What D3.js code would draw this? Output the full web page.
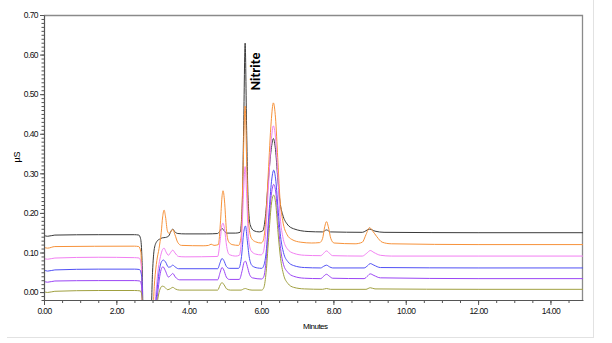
<!DOCTYPE html>
<html>
<head>
<meta charset="utf-8">
<script src="https://cdn.jsdelivr.net/npm/d3@7"></script>
<style>
  html, body { margin: 0; padding: 0; background: #fff; }
  svg { display: block; font-family: "Liberation Sans", Arial, sans-serif; }
  .axis text { font-size: 8.5px; letter-spacing: -0.6px; fill: #111; }
  .axis path, .axis line { stroke: #555; }
</style>
</head>
<body>
<div id="chart"></div>
<script>
// retention time (min), conductivity (µS)
const traceBlack = [[0,0.143],[0.1,0.141],[0.3,0.144],[1.5,0.145],[2.5,0.145],[2.62,0.144],[2.67,0.135],[2.71,0.08],[2.74,-0.05],[2.96,-0.05],[3.0,0.05],[3.05,0.11],[3.12,0.128],[3.2,0.134],[3.27,0.137],[3.36,0.138],[3.45,0.142],[3.51,0.154],[3.56,0.159],[3.61,0.153],[3.7,0.148],[3.9,0.147],[4.5,0.147],[4.8,0.148],[4.87,0.155],[4.92,0.161],[4.97,0.156],[5.05,0.149],[5.3,0.149],[5.42,0.151],[5.48,0.22],[5.52,0.42],[5.56,0.629],[5.6,0.42],[5.64,0.24],[5.7,0.17],[5.8,0.155],[5.95,0.152],[6.05,0.155],[6.12,0.19],[6.2,0.28],[6.28,0.36],[6.34,0.388],[6.4,0.36],[6.46,0.29],[6.52,0.23],[6.6,0.195],[6.72,0.172],[6.9,0.16],[7.3,0.153],[7.7,0.152],[7.81,0.157],[7.92,0.152],[8.8,0.151],[9.0,0.159],[9.15,0.154],[9.4,0.151],[12,0.15],[14.9,0.15]];
const traceOrange = [[0,0.113],[0.1,0.111],[0.3,0.115],[2.5,0.116],[2.62,0.115],[2.68,0.1],[2.72,-0.05],[3.0,-0.05],[3.06,0.03],[3.12,0.08],[3.18,0.11],[3.24,0.15],[3.28,0.19],[3.32,0.207],[3.36,0.19],[3.41,0.155],[3.46,0.148],[3.51,0.153],[3.56,0.158],[3.62,0.145],[3.7,0.125],[3.8,0.118],[4.4,0.117],[4.55,0.118],[4.62,0.121],[4.7,0.118],[4.82,0.12],[4.88,0.18],[4.92,0.24],[4.95,0.256],[4.99,0.23],[5.04,0.16],[5.1,0.128],[5.2,0.12],[5.38,0.118],[5.45,0.14],[5.5,0.3],[5.56,0.47],[5.61,0.3],[5.66,0.17],[5.74,0.135],[5.85,0.127],[6.0,0.124],[6.06,0.13],[6.12,0.17],[6.2,0.3],[6.28,0.43],[6.34,0.478],[6.4,0.44],[6.46,0.34],[6.52,0.24],[6.6,0.18],[6.72,0.145],[6.85,0.133],[7.1,0.126],[7.4,0.124],[7.62,0.125],[7.7,0.135],[7.76,0.165],[7.81,0.178],[7.86,0.165],[7.93,0.135],[8.02,0.124],[8.6,0.122],[8.8,0.126],[8.9,0.145],[9.0,0.163],[9.08,0.155],[9.2,0.14],[9.35,0.126],[9.6,0.122],[12,0.12],[14.9,0.12]];
const tracePink = [[0,0.085],[0.1,0.083],[0.3,0.086],[1.5,0.088],[2.5,0.087],[2.63,0.086],[2.69,0.07],[2.73,-0.05],[3.04,-0.05],[3.1,0.005],[3.16,0.06],[3.22,0.09],[3.28,0.108],[3.32,0.111],[3.37,0.102],[3.44,0.093],[3.5,0.1],[3.56,0.106],[3.62,0.099],[3.72,0.09],[3.9,0.089],[4.8,0.09],[4.87,0.13],[4.92,0.17],[4.95,0.174],[4.99,0.16],[5.05,0.115],[5.12,0.095],[5.3,0.091],[5.4,0.093],[5.47,0.15],[5.52,0.26],[5.56,0.317],[5.6,0.25],[5.65,0.14],[5.72,0.105],[5.85,0.096],[6.0,0.094],[6.06,0.1],[6.12,0.14],[6.2,0.26],[6.28,0.38],[6.34,0.42],[6.4,0.39],[6.46,0.3],[6.52,0.2],[6.6,0.14],[6.72,0.11],[6.9,0.098],[7.2,0.093],[7.65,0.092],[7.73,0.098],[7.81,0.104],[7.89,0.098],[7.98,0.092],[8.8,0.091],[8.92,0.098],[9.02,0.105],[9.12,0.1],[9.3,0.093],[9.6,0.091],[12,0.091],[14.9,0.091]];
const traceBlue = [[0,0.056],[0.1,0.053],[0.3,0.056],[1.5,0.058],[2.5,0.058],[2.64,0.057],[2.7,0.04],[2.74,-0.05],[3.06,-0.05],[3.12,0.0],[3.18,0.05],[3.24,0.075],[3.3,0.081],[3.36,0.076],[3.44,0.063],[3.5,0.064],[3.56,0.068],[3.62,0.064],[3.72,0.059],[4.8,0.059],[4.87,0.075],[4.92,0.085],[4.97,0.08],[5.04,0.065],[5.12,0.06],[5.38,0.06],[5.46,0.09],[5.52,0.15],[5.57,0.167],[5.62,0.13],[5.68,0.085],[5.76,0.066],[5.9,0.061],[6.02,0.06],[6.08,0.068],[6.14,0.1],[6.22,0.2],[6.29,0.28],[6.35,0.308],[6.41,0.28],[6.47,0.21],[6.54,0.14],[6.62,0.1],[6.74,0.077],[6.9,0.067],[7.2,0.062],[7.65,0.061],[7.73,0.065],[7.81,0.068],[7.89,0.064],[7.98,0.061],[8.85,0.061],[8.95,0.067],[9.02,0.072],[9.12,0.068],[9.3,0.062],[12,0.061],[14.9,0.061]];
const tracePurple = [[0,0.027],[0.1,0.025],[0.3,0.028],[1.5,0.029],[2.5,0.029],[2.65,0.028],[2.7,0.015],[2.74,-0.05],[3.08,-0.05],[3.14,-0.005],[3.2,0.04],[3.25,0.06],[3.29,0.064],[3.35,0.055],[3.44,0.038],[3.5,0.042],[3.56,0.047],[3.63,0.038],[3.75,0.031],[4.8,0.031],[4.87,0.05],[4.92,0.062],[4.97,0.056],[5.04,0.038],[5.12,0.032],[5.4,0.032],[5.48,0.055],[5.53,0.075],[5.57,0.078],[5.62,0.065],[5.68,0.045],[5.76,0.036],[6.02,0.033],[6.08,0.04],[6.14,0.08],[6.22,0.18],[6.29,0.25],[6.35,0.272],[6.41,0.25],[6.47,0.18],[6.54,0.11],[6.62,0.07],[6.74,0.05],[6.9,0.04],[7.2,0.035],[7.65,0.034],[7.73,0.04],[7.81,0.045],[7.89,0.04],[7.98,0.035],[8.85,0.034],[8.95,0.041],[9.02,0.046],[9.12,0.042],[9.3,0.036],[12,0.034],[14.9,0.034]];
const traceOlive = [[0,0.001],[0.1,-0.001],[0.3,0.002],[1.5,0.004],[2.5,0.004],[2.66,0.003],[2.71,-0.01],[2.74,-0.05],[3.1,-0.05],[3.15,-0.015],[3.21,0.008],[3.27,0.015],[3.33,0.013],[3.42,0.006],[3.5,0.009],[3.56,0.012],[3.63,0.008],[3.75,0.005],[4.8,0.005],[4.87,0.018],[4.92,0.024],[4.98,0.018],[5.05,0.008],[5.15,0.005],[5.45,0.005],[5.52,0.008],[5.57,0.009],[5.63,0.007],[5.75,0.005],[6.02,0.005],[6.08,0.012],[6.14,0.05],[6.22,0.15],[6.29,0.225],[6.35,0.245],[6.41,0.22],[6.47,0.15],[6.54,0.085],[6.62,0.045],[6.74,0.022],[6.9,0.012],[7.2,0.008],[7.7,0.007],[7.81,0.009],[7.92,0.007],[8.9,0.007],[9.02,0.011],[9.15,0.008],[12,0.007],[14.9,0.007]];

const traces = [traceBlack, traceOrange, tracePink, traceBlue, tracePurple, traceOlive];
const traceColors = ['#3a3a3a', '#f7923a', '#f27ff2', '#5050f5', '#9b45f5', '#a0a040'];
const xTickLabels = ['0.00', '2.00', '4.00', '6.00', '8.00', '10.00', '12.00', '14.00'];
const yTickLabels = ['0.00', '0.10', '0.20', '0.30', '0.40', '0.50', '0.60', '0.70'];

const width = 612;
const height = 343;
const margin = { top: 15, right: 29, bottom: 43, left: 44 };
const plotW = width - margin.left - margin.right;
const plotH = height - margin.top - margin.bottom;

const svg = d3.select('#chart')
  .append('svg')
  .attr('width', width)
  .attr('height', height);

// faint frame of the original screenshot
svg.append('line').attr('x1', 7).attr('x2', 593).attr('y1', 337.5).attr('y2', 337.5)
  .attr('stroke', '#e2e2e2');
svg.append('line').attr('x1', 593.5).attr('x2', 593.5).attr('y1', 0).attr('y2', 338)
  .attr('stroke', '#e2e2e2');

const x = d3.scaleLinear().domain([0, 14.9]).range([0, plotW]);
const y = d3.scaleLinear().domain([-0.02, 0.70]).range([plotH, 0]);

const g = svg.append('g')
  .attr('transform', `translate(${margin.left}, ${margin.top})`);

g.append('clipPath').attr('id', 'plot-clip')
  .append('rect').attr('width', plotW).attr('height', plotH);

// box: top and right edges
g.append('path')
  .attr('d', `M0,0.5H${plotW - 0.5}V${plotH}`)
  .attr('fill', 'none')
  .attr('stroke', '#8a8a8a')
  .attr('stroke-width', 1.3);

const line = d3.line()
  .x((d) => x(d[0]))
  .y((d) => y(d[1]))
  .curve(d3.curveMonotoneX);

g.append('g')
  .attr('clip-path', 'url(#plot-clip)')
  .selectAll('path')
  .data(traces)
  .enter()
  .append('path')
  .attr('d', line)
  .attr('fill', 'none')
  .attr('stroke', (d, i) => traceColors[i])
  .attr('stroke-width', 1)
  .attr('stroke-linejoin', 'round');

// minor ticks
g.append('g')
  .attr('class', 'axis')
  .attr('transform', `translate(0, ${plotH})`)
  .call(d3.axisBottom(x).tickValues(d3.range(0, 14.9, 0.5)).tickSize(3).tickFormat(''))
  .call((a) => a.select('.domain').remove());
g.append('g')
  .attr('class', 'axis')
  .call(d3.axisLeft(y).tickValues(d3.range(-0.02, 0.701, 0.01)).tickSize(2.5).tickFormat(''))
  .call((a) => a.select('.domain').remove());

// major ticks with labels
g.append('g')
  .attr('class', 'axis')
  .attr('transform', `translate(0, ${plotH})`)
  .call(d3.axisBottom(x)
    .tickValues(xTickLabels.map(Number))
    .tickFormat((d, i) => xTickLabels[i])
    .tickSize(5)
    .tickSizeOuter(0)
    .tickPadding(3));

g.append('g')
  .attr('class', 'axis')
  .call(d3.axisLeft(y)
    .tickValues(yTickLabels.map(Number))
    .tickFormat((d, i) => yTickLabels[i])
    .tickSize(4)
    .tickSizeOuter(0)
    .tickPadding(2));

g.selectAll('.axis .domain').attr('stroke-width', 1.2);

svg.append('text')
  .attr('x', margin.left + x(7.5))
  .attr('y', 329)
  .attr('text-anchor', 'middle')
  .style('font-size', '8px')
  .style('letter-spacing', '-0.5px')
  .text('Minutes');

svg.append('text')
  .attr('transform', 'translate(20, 157) rotate(-90)')
  .attr('text-anchor', 'middle')
  .style('font-size', '9px')
  .text('µS');

// peak label
g.append('text')
  .attr('transform', `translate(${x(5.56) + 15}, ${y(0.51)}) rotate(-90)`)
  .style('font-family', 'Carlito, "Liberation Sans", sans-serif')
  .style('font-weight', 'bold')
  .style('font-size', '14px')
  .text('Nitrite');
</script>
</body>
</html>
